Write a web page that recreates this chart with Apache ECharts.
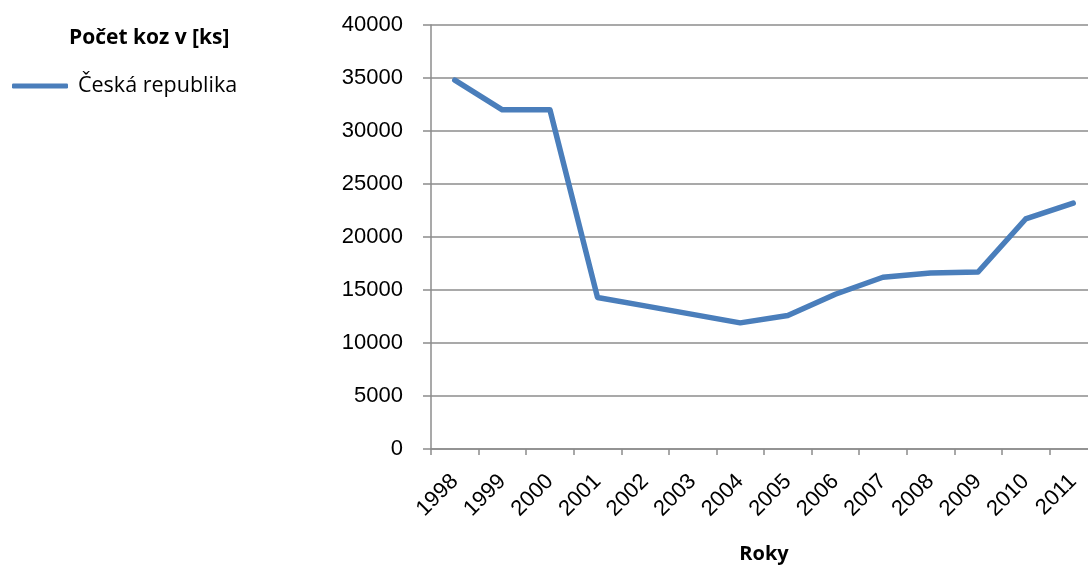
<!DOCTYPE html>
<html>
<head>
<meta charset="utf-8">
<style>
  html, body { margin: 0; padding: 0; background: #fff; }
  #chart { width: 1088px; height: 565px; }
</style>
<script src="https://cdn.jsdelivr.net/npm/echarts@6/dist/echarts.min.js"></script>
</head>
<body>
<div id="chart"></div>
<script>
// Goat numbers in the Czech Republic, 1998–2011
const years = ['1998', '1999', '2000', '2001', '2002', '2003', '2004',
               '2005', '2006', '2007', '2008', '2009', '2010', '2011'];
const goats = [34800, 32000, 32000, 14300, 13500, 12700, 11900,
               12600, 14600, 16200, 16600, 16700, 21700, 23200];
const seriesName = 'Česká republika';
const legendTitle = 'Počet koz v [ks]';
const xAxisTitle = 'Roky';

const gridColor = '#8c8c8c';
const tickFont = 'Liberation Sans';
const textFont = 'Open Sans';

const chart = echarts.init(document.getElementById('chart'), null, { renderer: 'canvas' });

chart.setOption({
  animation: false,
  backgroundColor: '#ffffff',
  title: {
    text: legendTitle,
    left: 69,
    top: 28,
    padding: 0,
    textStyle: { fontFamily: textFont, fontWeight: 'bold', fontSize: 21, color: '#000' }
  },
  legend: {
    data: [seriesName],
    left: 12,
    top: 75,
    padding: 0,
    icon: 'roundRect',
    itemWidth: 56,
    itemHeight: 5,
    textStyle: { fontFamily: textFont, fontSize: 21.5, color: '#000', padding: [0, 0, 0, 5] }
  },
  grid: {
    left: 431, right: -9, top: 25, bottom: 116,
    containLabel: false,
    outerBoundsMode: 'none'
  },
  xAxis: {
    type: 'category',
    data: years,
    boundaryGap: true,
    name: xAxisTitle,
    nameLocation: 'middle',
    nameGap: 95,
    nameTextStyle: { fontFamily: textFont, fontWeight: 'bold', fontSize: 20, color: '#000' },
    axisLine: { lineStyle: { color: gridColor, width: 1.5 } },
    axisTick: { show: true, length: 6, inside: false, lineStyle: { color: gridColor, width: 1.5 } },
    axisLabel: {
      rotate: 45,
      margin: 29,
      interval: 0,
      fontFamily: tickFont,
      fontSize: 22,
      color: '#000'
    },
    splitLine: { show: false }
  },
  yAxis: {
    type: 'value',
    min: 0,
    max: 40000,
    interval: 5000,
    axisLine: { show: true, lineStyle: { color: gridColor, width: 1.5 } },
    axisTick: { show: true, length: 8, lineStyle: { color: gridColor, width: 1.5 } },
    axisLabel: {
      margin: 28,
      fontFamily: tickFont,
      fontSize: 22,
      color: '#000',
      formatter: (v) => String(v)
    },
    splitLine: { show: true, lineStyle: { color: gridColor, width: 1.5 } }
  },
  series: [{
    name: seriesName,
    type: 'line',
    data: goats,
    showSymbol: false,
    symbol: 'none',
    lineStyle: { color: '#4a7ebb', width: 5.5, cap: 'round', join: 'round' },
    itemStyle: { color: '#4a7ebb' }
  }]
});
</script>
</body>
</html>
